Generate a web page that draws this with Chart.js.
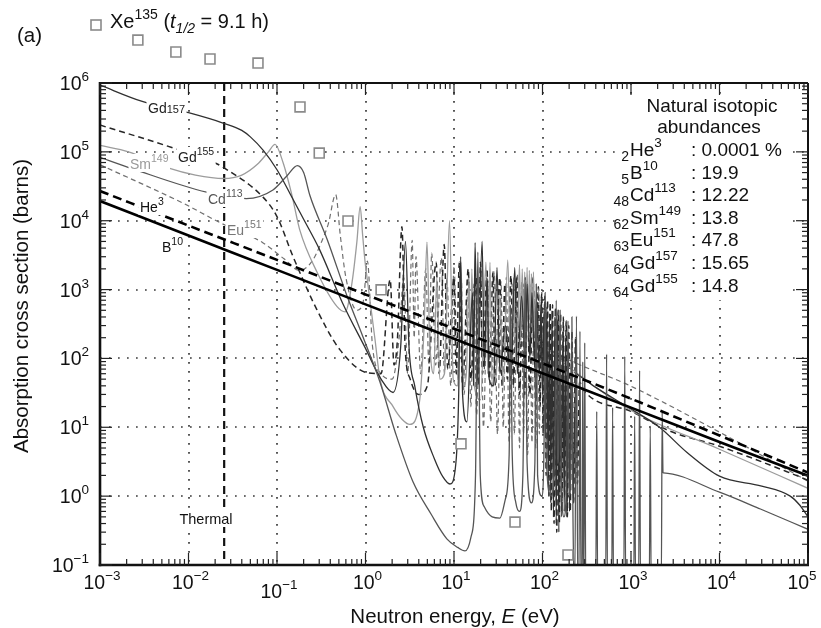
<!DOCTYPE html>
<html>
<head>
<meta charset="utf-8">
<script src="https://cdn.jsdelivr.net/npm/chart.js@4.4.1/dist/chart.umd.min.js"></script>
<style>
html,body{margin:0;padding:0;background:#fff;overflow:hidden}
#box{position:relative;width:821px;height:628px}
</style>
</head>
<body>
<div id="box"><canvas id="chart" width="821" height="628"></canvas></div>
<script>
// ---------------- data (energy in eV, cross section in barns) ----------------
const xDecades = [1e-3, 1e-2, 1e-1, 1, 1e1, 1e2, 1e3, 1e4, 1e5];
const yDecades = [1e-1, 1, 1e1, 1e2, 1e3, 1e4, 1e5, 1e6];
const xTickExp = ['−3', '−2', '−1', '0', '1', '2', '3', '4', '5'];
const yTickExp = ['−1', '0', '1', '2', '3', '4', '5', '6'];
const thermalEnergy = 0.0253;

const xe135 = [[0.00268,4.2e6],[0.0072,2.82e6],[0.0175,2.23e6],[0.061,1.95e6],[0.182,4.5e5],[0.30,9.6e4],[0.634,9.9e3],[1.5,990],[12,5.76],[48.9,0.42],[194,0.14]];

const b10 = [[0.001,19300],[0.01,6100],[0.1,1930],[1,610],[10,193],[100,61],[1000,19.3],[10000,6.1],[100000,1.98]];

const he3 = [[0.001,27000],[0.01,8500],[0.1,2700],[1,850],[10,270],[100,85],[1000,26],[10000,7.6],[100000,2.2]];

const gd157 = [[0.001,9.3e5],[0.003,5.4e5],[0.01,3.7e5],[0.025,2.6e5],[0.04,2.05e5],[0.05,1.65e5],[0.07,1.05e5],[0.1,5.5e4],[0.15,2.1e4],[0.2,1.05e4],[0.3,3.9e3],[0.55,640],[1.0,140],[1.5,50],[2.05,32],[2.5,150],[2.83,5000],[3.1,150],[3.6,40],[4.5,10],[6,3.5],[7.5,1.9],[9,1.5],[10.5,3],[11.3,30],[11.9,3000],[12.5,30],[14,12],[16.2,900],[16.6,40],[17.3,4800],[18.5,50],[20.8,5000],[22,70],[23.6,1500],[25,50],[28,40],[30.6,2100],[33,60],[38,300],[44,50],[48.6,2100],[52,60],[58,800],[64,80],[67,1200],[72,100],[76,900],[81,90],[86,700],[92,60],[96,600],[100,30],[104,500],[108,8],[112,560],[116,1.5],[120,450],[124,0.8],[128,500],[133,0.5],[138,400],[143,0.4],[148,350],[153,0.3],[158,300],[163,0.5],[170,250],[176,0.6],[182,200],[188,0.5],[195,150],[202,0.6],[212,120],[222,1],[238,60],[250,58],[400,38],[900,20],[2100,10],[4300,4.3],[10000,1.95],[30000,1.4],[63000,1.0],[80000,0.75],[100000,0.5]];

const gd155 = [[0.001,2.45e5],[0.0067,1.14e5],[0.02,6.9e4],[0.025,5.9e4],[0.0695,2.2e4],[0.1,1.15e4],[0.152,3.0e3],[0.283,507],[0.515,133],[1.04,62],[1.5,60],[1.9,1400],[2.1,80],[2.3,200],[2.58,8200],[2.8,150],[3.2,50],[4,30],[5,40],[6.3,2500],[6.8,60],[7.75,4500],[8.5,70],[10,1500],[10.6,60],[11.5,2500],[12.5,40],[14.5,2000],[15.5,50],[17.8,1500],[18.8,40],[19.9,2500],[21,60],[23.6,2000],[25,50],[27.6,1800],[29,40],[33,1500],[35,40],[37.5,1200],[40,50],[44,1600],[47,40],[51,1500],[55,30],[60,1200],[63,30],[67,1300],[72,30],[78,1500],[84,25],[90,1100],[94,20],[98,900],[102,8],[106,800],[110,2],[114,700],[118,1],[122,650],[126,0.6],[130,600],[135,0.4],[140,550],[145,0.3],[150,500],[155,0.4],[160,450],[166,0.6],[172,400],[178,1],[185,350],[191,0.5],[198,300],[206,0.6],[215,250],[225,0.8],[236,200],[248,1.5],[262,45],[300,33],[1000,17],[2750,8.8],[10000,5.3],[67000,2.1],[100000,1.7]];

const sm149 = [[0.001,1.24e5],[0.0021,1.0e5],[0.006,5.8e4],[0.012,4.6e4],[0.025,4.1e4],[0.04,4.6e4],[0.06,6.6e4],[0.08,1.0e5],[0.095,1.28e5],[0.117,7e4],[0.148,2.3e4],[0.18,7.5e3],[0.283,1.8e3],[0.475,570],[0.59,475],[0.7,1200],[0.8,5000],[0.87,1.6e4],[0.93,6000],[0.99,2500],[1.04,1500],[1.28,190],[1.46,50],[2.05,20],[2.6,13],[3.17,11],[4.1,25],[4.6,300],[4.95,4900],[5.3,200],[5.9,60],[6.4,1500],[6.9,50],[7.8,60],[8.9,10000],[9.8,50],[11,40],[12,2500],[12.8,40],[13.8,60],[14.8,1500],[15.3,80],[15.9,2000],[17,40],[20,25],[23,2500],[24,60],[25.5,2500],[27,40],[30,60],[33,800],[36,40],[40.5,2700],[44,60],[47,1500],[50,80],[53,400],[55,2300],[57,200],[59,2000],[61,300],[63,1800],[65,250],[67,2100],[69,200],[71,1900],[73,300],[75,1700],[77,250],[79,1800],[82,200],[86,1100],[93,700],[100,200],[110,150],[130,120],[165,91],[970,18],[10000,4.8],[100000,1.3]];

const cd113 = [[0.001,8.3e4],[0.0024,5.6e4],[0.016,2.6e4],[0.045,2.1e4],[0.09,2.8e4],[0.13,4.5e4],[0.17,6.3e4],[0.2,5e4],[0.236,2.3e4],[0.37,5.3e3],[0.62,800],[0.93,210],[1.46,45],[2.2,8],[3.45,1.6],[5.5,0.55],[8.3,0.24],[11,0.18],[13.3,0.16],[15.5,0.25],[17.5,2],[18.6,3500],[19.8,2],[22,0.7],[27,0.5],[33,0.48],[38,0.9],[42,4],[43.5,600],[45.5,4],[50,0.8],[55,0.6],[60,2],[63.8,1500],[67,3],[75,0.8],[82,3],[85,1200],[88,2],[98,1],[104,5],[107,900],[110,4],[125,1],[138,5],[143,700],[148,3],[152,5],[158,500],[163,2],[175,0.5],[188,3],[194,350],[200,1],[210,4],[215,400],[220,1],[232,0.06],[242,410],[250,0.05],[258,0.05],[265,250],[272,0.05],[280,0.05],[285,90],[290,0.05],[294,0.05],[300,170],[308,0.05],[400,0.05],[410,17],[420,0.05],[518,0.05],[530,115],[542,0.05],[606,0.05],[620,19.5],[634,0.05],[830,0.05],[850,107],[870,0.05],[1075,0.05],[1100,14.5],[1125,0.05],[1220,0.05],[1250,67],[1280,0.05],[1610,0.05],[1650,10.4],[1690,0.05],[2200,0.05],[2250,16.6],[2300,2.2],[2320,2.18],[10000,1.14],[29000,0.65],[100000,0.33]];

const eu151 = [[0.001,6.5e4],[0.00865,1.8e4],[0.0226,9.4e3],[0.069,4.8e3],[0.12,2.8e3],[0.18,1.9e3],[0.25,2.6e3],[0.32,5e3],[0.38,9e3],[0.46,2.4e4],[0.52,6e3],[0.6,1.5e3],[0.8,500],[0.95,700],[1.05,2600],[1.2,150],[1.5,60],[2.0,50],[2.4,200],[2.7,1500],[3.0,60],[3.37,5200],[3.55,200],[3.72,3000],[4.2,60],[4.8,2000],[5.2,80],[5.6,3400],[6.2,80],[7.2,2900],[7.8,60],[8.3,1500],[9.2,40],[10,2200],[11,50],[12,1800],[13,30],[14.5,1500],[15.5,20],[16.8,1200],[18,15],[20,2000],[21.5,10],[24,1400],[26,12],[28.5,1800],[31,8],[34,1300],[36,10],[39,1500],[42,6],[45.5,1200],[48,8],[52,1700],[55,5],[58,1300],[61,8],[64,1500],[68,4],[72,1200],[76,6],[80,1000],[84,5],[88,900],[92,8],[97,800],[102,10],[107,700],[112,20],[120,140],[165,108],[1000,39.5],[10000,8.5],[100000,1.65]];

// text content
const abundZ = ['2', '5', '48', '62', '63', '64', '64'];
const abundSym = ['He', 'B', 'Cd', 'Sm', 'Eu', 'Gd', 'Gd'];
const abundA = ['3', '10', '113', '149', '151', '157', '155'];
const abundVal = ['0.0001 %', '19.9', '12.22', '13.8', '47.8', '15.65', '14.8'];

// ---------------- helpers ----------------
const FONT = '"Liberation Sans", Arial, Helvetica, sans-serif';
const toPts = arr => arr.map(p => ({x: p[0], y: p[1]}));
function fnt(s, it) { return (it ? 'italic ' : '') + s + 'px ' + FONT; }
function runsWidth(ctx, runs) {
  let w = 0;
  for (const r of runs) { ctx.font = fnt(r.s, r.i); w += ctx.measureText(r.t).width; }
  return w;
}
function drawRuns(ctx, x, y, runs, align, color, bg) {
  const w = runsWidth(ctx, runs);
  let cx = align === 'right' ? x - w : align === 'center' ? x - w / 2 : x;
  if (bg) { ctx.fillStyle = '#fff'; ctx.fillRect(cx - 1.5, y - bg, w + 3, bg + 3); }
  for (const r of runs) {
    ctx.font = fnt(r.s, r.i);
    ctx.fillStyle = r.c || color || '#111';
    ctx.fillText(r.t, cx, y + (r.dy || 0));
    cx += ctx.measureText(r.t).width;
  }
}
function seg(ctx, x1, y1, x2, y2) { ctx.beginPath(); ctx.moveTo(x1, y1); ctx.lineTo(x2, y2); ctx.stroke(); }

const deco = {
  id: 'deco',
  beforeDatasetsDraw(chart) {
    const {ctx, chartArea: a, scales: {x, y}} = chart;
    ctx.save();
    ctx.strokeStyle = '#3a3a3a'; ctx.lineWidth = 1.7; ctx.setLineDash([1.7, 7.3]);
    xDecades.forEach(v => { const p = Math.round(x.getPixelForValue(v)); if (p < a.left + 4 || p > a.right - 4) return; seg(ctx, p, a.top, p, a.bottom); });
    yDecades.forEach(v => { const p = Math.round(y.getPixelForValue(v)); if (p < a.top + 4 || p > a.bottom - 4) return; seg(ctx, a.left, p, a.right, p); });
    ctx.setLineDash([8, 5]); ctx.lineWidth = 2.2; ctx.strokeStyle = '#111';
    const tx = x.getPixelForValue(thermalEnergy);
    seg(ctx, tx, a.top, tx, a.bottom);
    ctx.restore();
  },
  afterDatasetsDraw(chart) {
    const {ctx, chartArea: a, scales: {x, y}} = chart;
    ctx.save();
    ctx.textBaseline = 'alphabetic'; ctx.textAlign = 'left';
    // curve labels
    drawRuns(ctx, 148, 113, [{t: 'Gd', s: 14}, {t: '157', s: 11}], 'left', '#222', 12);
    drawRuns(ctx, 178, 162, [{t: 'Gd', s: 14}, {t: '155', s: 10.5, dy: -7}], 'left', '#222', 15);
    drawRuns(ctx, 130, 169, [{t: 'Sm', s: 14}, {t: '149', s: 10.5, dy: -7}], 'left', '#9a9a9a', 15);
    drawRuns(ctx, 208, 204, [{t: 'Cd', s: 14}, {t: '113', s: 10.5, dy: -7}], 'left', '#555', 15);
    drawRuns(ctx, 140, 212, [{t: 'He', s: 14}, {t: '3', s: 10.5, dy: -7}], 'left', '#111', 15);
    drawRuns(ctx, 227, 235, [{t: 'Eu', s: 14}, {t: '151', s: 10.5, dy: -7}], 'left', '#777', 15);
    drawRuns(ctx, 162, 252, [{t: 'B', s: 14}, {t: '10', s: 10.5, dy: -7}], 'left', '#111', 0);
    drawRuns(ctx, 206, 524, [{t: 'Thermal', s: 14.5}], 'center', '#111', 12);

    // Xe135 squares that lie above the frame: draw the library's own point elements without the area cut
    const xm = chart.getDatasetMeta(0);
    const full = {left: 0, top: 0, right: chart.width, bottom: chart.height};
    xm.data.forEach(pt => { if (pt.y < a.top) pt.draw(ctx, full); });

    // white panel behind the abundance table
    ctx.fillStyle = '#fff';
    ctx.fillRect(620, a.top + 13, 173, 300 - a.top - 13);

    // frame
    ctx.strokeStyle = '#111'; ctx.setLineDash([]);
    ctx.lineWidth = 2; seg(ctx, a.left, a.top, a.right, a.top); seg(ctx, a.right, a.top, a.right, a.bottom);
    ctx.lineWidth = 2.6; seg(ctx, a.left, a.top - 1, a.left, a.bottom + 1.3); seg(ctx, a.left - 1.3, a.bottom, a.right + 1, a.bottom);
    // ticks
    ctx.lineWidth = 1.2; ctx.strokeStyle = '#222';
    for (let i = 0; i < xDecades.length; i++) {
      const d = xDecades[i];
      const p = x.getPixelForValue(d);
      seg(ctx, p, a.bottom, p, a.bottom - 12); seg(ctx, p, a.top, p, a.top + 12);
      if (i < xDecades.length - 1) for (let k = 2; k <= 9; k++) {
        const q = x.getPixelForValue(k * d);
        seg(ctx, q, a.bottom, q, a.bottom - 6); seg(ctx, q, a.top, q, a.top + 6);
      }
    }
    for (let i = 0; i < yDecades.length; i++) {
      const d = yDecades[i];
      const p = y.getPixelForValue(d);
      seg(ctx, a.left, p, a.left + 12, p); seg(ctx, a.right, p, a.right - 12, p);
      if (i < yDecades.length - 1) for (let k = 2; k <= 9; k++) {
        const q = y.getPixelForValue(k * d);
        seg(ctx, a.left, q, a.left + 6, q); seg(ctx, a.right, q, a.right - 6, q);
      }
    }
    // tick labels
    xDecades.forEach((d, i) => {
      const p = x.getPixelForValue(d);
      const by = i === 2 ? 598 : 589;
      const cx = i === xDecades.length - 1 ? p - 6 : p + 2;
      drawRuns(ctx, cx, by, [{t: '10', s: 19.5}, {t: xTickExp[i], s: 13.5, dy: -9}], 'center', '#111');
    });
    yDecades.forEach((d, i) => {
      const p = y.getPixelForValue(d);
      drawRuns(ctx, 89, p + 7, [{t: '10', s: 19.5}, {t: yTickExp[i], s: 13.5, dy: -9}], 'right', '#111');
    });
    // axis titles
    drawRuns(ctx, 455, 623, [{t: 'Neutron energy, ', s: 20.5}, {t: 'E', s: 20.5, i: true}, {t: ' (eV)', s: 20.5}], 'center', '#111');
    ctx.save(); ctx.translate(28, 306); ctx.rotate(-Math.PI / 2);
    drawRuns(ctx, 0, 0, [{t: 'Absorption cross section (barns)', s: 20.5}], 'center', '#111');
    ctx.restore();
    // panel tag and Xe legend
    drawRuns(ctx, 17, 42, [{t: '(a)', s: 20.5}], 'left', '#111');
    ctx.strokeStyle = '#8a8a8a'; ctx.lineWidth = 1.6; ctx.fillStyle = '#fff';
    ctx.fillRect(91, 20, 10, 10); ctx.strokeRect(91, 20, 10, 10);
    drawRuns(ctx, 110, 28, [{t: 'Xe', s: 20}, {t: '135', s: 14, dy: -9}, {t: ' (', s: 20}, {t: 't', s: 20, i: true}, {t: '1/2', s: 14, dy: 5, i: true}, {t: ' = 9.1 h)', s: 20}], 'left', '#111');
    // abundance table
    drawRuns(ctx, 712, 112, [{t: 'Natural isotopic', s: 19}], 'center', '#111');
    drawRuns(ctx, 709, 133, [{t: 'abundances', s: 19}], 'center', '#111');
    for (let i = 0; i < abundSym.length; i++) {
      const by = 156 + 22.6 * i;
      drawRuns(ctx, 629, by + 5, [{t: abundZ[i], s: 14}], 'right', '#111');
      drawRuns(ctx, 630, by, [{t: abundSym[i], s: 19}, {t: abundA[i], s: 13.5, dy: -9}], 'left', '#111');
      drawRuns(ctx, 691, by, [{t: ': ' + abundVal[i], s: 19}], 'left', '#111');
    }
    ctx.restore();
  }
};

function lineDs(label, arr, color, width, dash) {
  return {label, data: toPts(arr), borderColor: color, borderWidth: width, borderDash: dash || [],
    pointRadius: 0, fill: false, cubicInterpolationMode: 'monotone'};
}

const chart = new Chart(document.getElementById('chart'), {
  type: 'line',
  data: {
    datasets: [
      {label: 'Xe135', data: toPts(xe135), showLine: false, pointStyle: 'rect', pointRadius: 7,
       pointBorderColor: '#8a8a8a', pointBackgroundColor: '#fff', pointBorderWidth: 1.6, clip: false},
      lineDs('B10', b10, '#000', 2.6),
      lineDs('He3', he3, '#000', 2.6, [9, 5]),
      lineDs('Cd113', cd113, '#555', 1.3),
      lineDs('Gd157', gd157, '#303030', 1.3),
      lineDs('Sm149', sm149, '#9c9c9c', 1.3),
      lineDs('Gd155', gd155, '#262626', 1.5, [6, 4]),
      lineDs('Eu151', eu151, '#707070', 1.2, [5, 3.5])
    ]
  },
  options: {
    responsive: false,
    animation: false,
    events: [],
    layout: {padding: {top: 83, right: 13, left: 0, bottom: 0}},
    plugins: {legend: {display: false}, tooltip: {enabled: false}},
    scales: {
      x: {type: 'logarithmic', min: 1e-3, max: 1e5, grid: {display: false}, border: {display: false},
          ticks: {display: false}, afterFit: s => { s.height = 63; }},
      y: {type: 'logarithmic', min: 1e-1, max: 1e6, grid: {display: false}, border: {display: false},
          ticks: {display: false}, afterFit: s => { s.width = 100; }}
    }
  },
  plugins: [deco]
});
</script>
</body>
</html>
